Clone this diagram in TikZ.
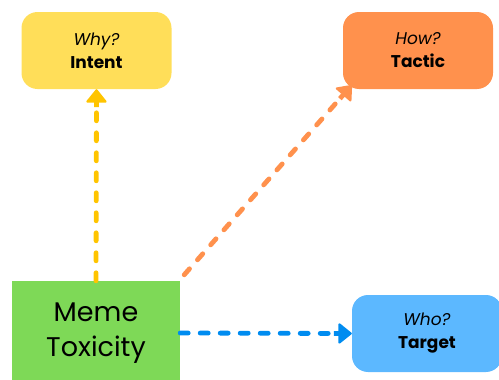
\documentclass[tikz,border=0pt]{standalone}
\usepackage{fontspec}
\setmainfont{Poppins}
\usetikzlibrary{arrows.meta,positioning,calc}
\definecolor{intentyellow}{RGB}{255,222,89}
\definecolor{arrowyellow}{RGB}{255,196,0}
\definecolor{tacticorange}{RGB}{255,145,77}
\definecolor{targetblue}{RGB}{92,184,255}
\definecolor{arrowblue}{RGB}{0,140,240}
\definecolor{memegreen}{RGB}{126,217,87}
\tikzset{
    % Question box style
    questionbox/.style={
        rectangle, draw=none, rounded corners=16pt,
        minimum width=150pt, minimum height=77pt,
        align=center, font=\fontsize{17}{23}\selectfont
    },
    % Central box style
    memebox/.style={
        rectangle, draw=none, fill=memegreen,
        minimum width=168pt, minimum height=104pt,
        align=center, font=\fontsize{27}{35}\selectfont
    },
    % Dashed line style
    dashline/.style={
        line width=4.8pt, dash pattern=on 8pt off 12pt,
        line cap=round, shorten >=15pt
    },
    % Solid arrow head
    headline/.style={
        -{Triangle[round,length=14pt,width=22pt,line width=2pt]},
        line width=4.8pt, solid
    }
}
\begin{document}
\begin{tikzpicture}[x=1pt,y=-1pt]
\useasboundingbox (0,0) rectangle (499,380);

% Boxes
\node[questionbox, fill=intentyellow] (intent) at (96.5,50.5) {\textit{Why?}\\\textbf{Intent}};
\node[questionbox, fill=tacticorange] (tactic) at (418,50.5) {\textit{How?}\\\textbf{Tactic}};
\node[memebox] (meme) at (96,333) {Meme\\Toxicity};
\node[questionbox, fill=targetblue] (target) at (427,333.5) {\textit{Who?}\\\textbf{Target}};

% End points of the diagonal arrow
\coordinate (tacticend) at ([shift={(9,-4)}]tactic.south west);
\coordinate (memecorner) at ([shift={(4,-6)}]meme.north east);

% Arrows
\draw[dashline, arrowyellow] (meme.north) -- (intent.south);
\draw[headline, arrowyellow] ($(intent.south)!18pt!(meme.north)$) -- (intent.south);
\draw[dashline, tacticorange] (memecorner) -- (tacticend);
\draw[headline, tacticorange] ($(tacticend)!18pt!(memecorner)$) -- (tacticend);
\draw[dashline, arrowblue] (meme.east) -- (target.west);
\draw[headline, arrowblue] ($(target.west)!18pt!(meme.east)$) -- (target.west);

\end{tikzpicture}
\end{document}
